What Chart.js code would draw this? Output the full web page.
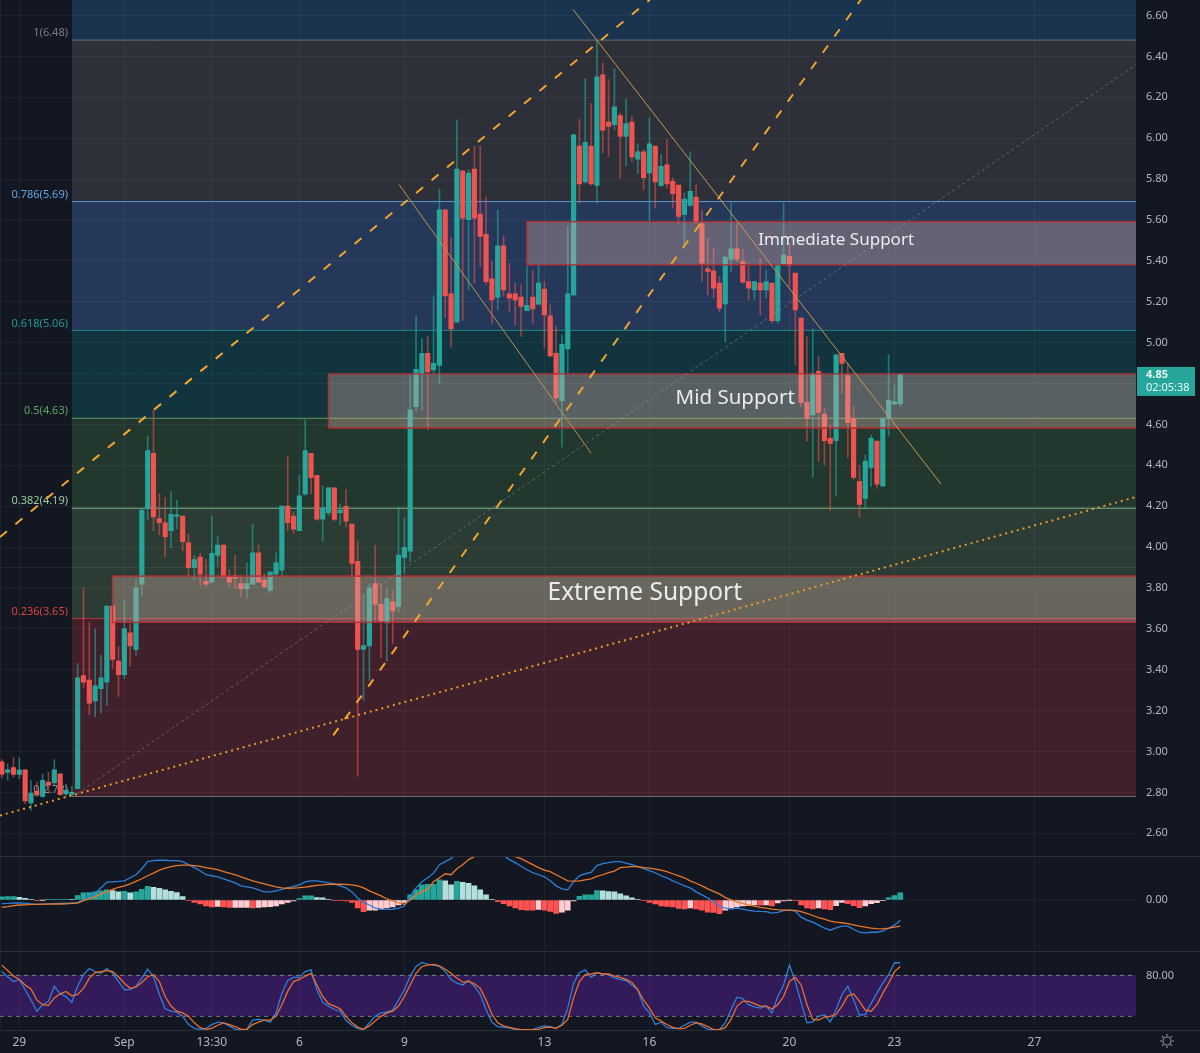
<!DOCTYPE html>
<html>
<head>
<meta charset="utf-8">
<title>Fib chart</title>
<script src="https://cdn.jsdelivr.net/npm/chart.js@4/dist/chart.umd.min.js"></script>
<style>
  html, body { margin: 0; padding: 0; background: #131722; }
  body { width: 1200px; height: 1053px; position: relative; overflow: hidden; }
  canvas { position: absolute; left: 0; }
  /* each canvas is 17px taller than its pane on the sides where the layout keeps a margin */
  #mainChart { top: -17px; }
  #macdChart { top: 840px; }
  #stochChart { top: 935px; }
  .paneLine { position: absolute; left: 0; width: 1200px; height: 1px; background: #2a2e39; }
</style>
</head>
<body>
<canvas id="mainChart" width="1200" height="890"></canvas>
<canvas id="macdChart" width="1200" height="128"></canvas>
<canvas id="stochChart" width="1200" height="118"></canvas>
<div class="paneLine" style="top:856px"></div>
<div class="paneLine" style="top:951px"></div>
<div class="paneLine" style="top:1030px"></div>
<script>
// 4h candles, one entry per bar
const opens = [
  2.949,2.898,2.921,2.888,2.911,2.748,2.806,2.78,2.85,2.846,
  2.891,2.793,2.79,2.818,3.371,3.35,3.247,3.308,3.339,3.711,
  3.442,3.376,3.58,3.50,3.819,4.189,4.459,4.139,4.119,4.08,
  4.15,4.152,4.021,3.899,3.951,3.832,3.828,3.959,4.01,3.854,
  3.861,3.822,3.797,3.819,3.972,3.838,3.789,3.868,3.887,4.2,
  4.152,4.08,4.259,4.459,4.351,4.137,4.168,4.29,4.168,4.199,
  4.112,3.93,3.499,3.517,3.822,3.72,3.629,3.732,3.708,3.949,
  3.98,4.687,4.847,4.948,4.867,4.889,5.65,5.239,5.10,5.841,
  5.601,5.849,5.629,5.53,5.312,5.221,5.474,5.239,5.239,5.223,
  5.157,5.223,5.188,5.262,5.131,4.948,4.716,4.969,5.234,5.962,
  5.786,5.962,5.769,6.31,6.079,6.066,6.111,6.009,6.079,5.898,
  5.933,5.83,5.962,5.768,5.87,5.789,5.771,5.626,5.671,5.712,
  5.582,5.361,5.351,5.291,5.19,5.408,5.459,5.397,5.299,5.258,
  5.291,5.258,5.291,5.108,5.386,5.422,5.34,5.12,4.708,4.646,
  4.86,4.65,4.532,4.52,4.948,4.839,4.63,4.32,4.238,4.388,
  4.519,4.299,4.63,4.70,4.70
];
const highs = [
  2.96,2.94,2.97,2.97,2.911,2.859,2.85,2.89,2.9,2.96,
  2.891,2.84,2.83,3.43,3.802,3.631,3.60,3.471,3.711,3.711,
  3.512,3.74,3.626,3.838,4.181,4.543,4.671,4.262,4.243,4.271,
  4.23,4.152,4.063,3.96,3.969,3.94,4.152,4.054,4.01,3.89,
  3.96,3.855,3.923,4.112,4.01,3.87,3.879,3.972,4.2,4.445,
  4.173,4.352,4.622,4.459,4.351,4.3,4.29,4.29,4.21,4.282,
  4.112,4.029,3.765,3.822,4.01,3.822,3.797,3.789,4.197,4.14,
  4.842,5.131,5.022,5.03,5.229,5.751,5.65,5.511,6.09,5.841,
  5.846,5.96,5.96,5.712,5.397,5.65,5.523,5.389,5.29,5.283,
  5.373,5.351,5.381,5.299,5.185,5.079,5.038,5.568,6.02,6.091,
  6.29,6.169,6.479,6.368,6.287,6.339,6.123,6.192,6.104,5.973,
  5.944,6.099,5.962,5.92,5.993,5.805,5.771,5.732,5.933,5.773,
  5.65,5.511,5.462,5.324,5.42,5.683,5.585,5.455,5.389,5.299,
  5.413,5.356,5.291,5.381,5.683,5.487,5.34,5.12,5.03,5.066,
  4.932,4.679,4.597,4.94,4.948,4.899,4.69,4.401,4.45,4.548,
  4.519,4.63,4.94,4.793,4.847
];
const lows = [
  2.87,2.86,2.875,2.867,2.745,2.712,2.78,2.775,2.795,2.83,
  2.785,2.78,2.78,2.818,3.313,3.179,3.169,3.188,3.226,3.406,
  3.27,3.357,3.417,3.471,3.757,4.135,4.08,4.059,3.952,3.997,
  4.09,3.982,3.858,3.838,3.809,3.81,3.825,3.907,3.85,3.809,
  3.797,3.757,3.753,3.819,3.828,3.80,3.78,3.863,3.854,4.08,
  4.067,4.08,4.254,4.259,4.13,4.029,4.155,4.125,4.108,4.10,
  3.858,2.88,3.25,3.348,3.634,3.459,3.443,3.528,3.683,3.871,
  3.93,4.663,4.671,4.573,4.85,4.798,5.124,4.978,5.10,5.108,
  5.258,5.291,5.373,5.283,5.095,5.16,5.226,5.152,5.087,5.03,
  5.157,5.095,5.185,4.973,4.93,4.703,4.488,4.85,5.23,5.683,
  5.78,5.77,5.683,5.928,5.911,6.042,5.805,5.866,5.887,5.826,
  5.748,5.598,5.658,5.765,5.756,5.658,5.585,5.479,5.665,5.585,
  5.30,5.234,5.217,5.152,5.005,5.348,5.397,5.29,5.209,5.209,
  5.136,5.217,5.095,5.095,5.38,5.275,4.891,4.687,4.52,4.341,
  4.418,4.401,4.178,4.25,4.752,4.439,4.33,4.148,4.189,4.295,
  4.287,4.295,4.543,4.695,4.687
];
const closes = [
  2.888,2.911,2.888,2.911,2.758,2.797,2.787,2.859,2.836,2.911,
  2.789,2.81,2.80,3.36,3.339,3.237,3.321,3.36,3.711,3.45,
  3.376,3.60,3.517,3.80,4.181,4.472,4.148,4.119,4.05,4.16,
  4.155,4.027,3.899,3.939,3.868,3.819,3.969,4.01,3.854,3.828,
  3.848,3.797,3.822,3.972,3.828,3.806,3.879,3.923,4.2,4.119,
  4.088,4.251,4.472,4.339,4.137,4.192,4.29,4.135,4.181,4.127,
  3.92,3.50,3.518,3.80,3.72,3.639,3.748,3.688,3.961,3.998,
  4.671,4.87,4.948,4.857,4.899,5.65,5.229,5.067,5.849,5.609,
  5.83,5.609,5.52,5.298,5.209,5.474,5.258,5.218,5.209,5.177,
  5.182,5.165,5.291,5.136,4.935,4.728,4.992,5.239,6.017,5.777,
  5.98,5.777,6.30,6.039,6.058,6.153,6.009,6.071,5.908,5.933,
  5.807,5.972,5.786,5.862,5.777,5.729,5.618,5.702,5.74,5.588,
  5.389,5.348,5.267,5.169,5.418,5.459,5.408,5.296,5.267,5.299,
  5.258,5.299,5.107,5.381,5.43,5.378,5.16,4.708,4.63,4.847,
  4.659,4.52,4.507,4.94,4.899,4.609,4.341,4.209,4.421,4.532,
  4.308,4.63,4.718,4.71,4.847
];

// MACD pane
const macdHist = [
  .015,.017,.017,.013,.008,.003,-.002,-.001,.002,.003,.003,.003,.002,
  .022,.035,.037,.04,.045,.05,.047,.04,.043,.035,.04,.053,.068,.063,.058,.05,.043,.037,.017,
  -.002,-.012,-.02,-.03,-.035,-.032,-.035,-.037,-.037,-.037,-.037,-.04,-.037,-.035,-.033,-.03,-.02,-.012,-.005,
  .007,.02,.02,.012,.01,.003,
  -.002,-.004,-.005,-.012,-.04,-.058,-.05,-.05,-.045,-.04,-.035,-.025,-.012,
  .025,.05,.075,.078,.078,.1,.095,.075,.092,.088,.083,.07,.05,.025,.002,
  -.008,-.018,-.03,-.04,-.048,-.05,-.051,-.047,-.05,-.057,-.067,-.06,-.05,-.005,
  .018,.025,.026,.047,.045,.042,.04,.03,.02,.01,.003,
  -.002,-.012,-.02,-.03,-.032,-.035,-.042,-.045,-.04,-.045,-.05,-.06,-.062,-.068,-.05,-.04,-.035,-.03,-.028,-.025,-.026,-.025,-.03,-.015,-.005,-.001,-.002,
  -.025,-.04,-.045,-.04,-.045,-.048,-.028,-.012,-.018,-.028,-.038,-.03,-.018,-.014,-.003,
  .012,.022,.035
];
const macdLine = [
  -.018,-.017,-.015,-.014,-.016,-.02,-.022,-.021,-.019,-.018,-.017,-.016,-.015,
  -.012,0,.02,.035,.06,.088,.09,.092,.095,.11,.125,.155,.19,.195,.197,.197,.195,.195,.19,
  .175,.16,.145,.125,.12,.115,.105,.095,.085,.07,.065,.06,.05,.04,.04,.045,.052,.06,.067,
  .075,.09,.095,.095,.09,.085,
  .08,.07,.06,.04,.01,-.012,-.025,-.04,-.045,-.047,-.047,-.04,-.03,
  .02,.06,.09,.11,.133,.175,.19,.205,.235,.26,.28,.28,.28,.275,.262,
  .25,.22,.2,.185,.167,.15,.135,.125,.115,.095,.07,.055,.05,.09,
  .12,.13,.137,.17,.18,.185,.19,.19,.183,.175,.165,
  .155,.145,.135,.12,.11,.095,.083,.07,.06,.04,.025,.01,-.01,-.03,-.04,-.045,-.04,-.045,-.052,-.055,-.057,-.058,-.065,-.062,-.053,-.05,-.055,
  -.085,-.1,-.11,-.125,-.14,-.15,-.138,-.13,-.13,-.145,-.16,-.163,-.16,-.16,-.155,
  -.14,-.125,-.1
];
const macdSignal = [
  -.037,-.033,-.028,-.025,-.024,-.022,-.022,-.021,-.021,-.02,-.02,-.019,-.017,
  -.016,-.003,.005,.015,.03,.04,.052,.063,.07,.08,.092,.105,.12,.133,.148,.158,.165,.17,.173,
  .173,.17,.167,.16,.155,.15,.14,.133,.125,.115,.105,.095,.087,.08,.072,.065,.06,.058,.059,
  .061,.064,.068,.072,.075,.077,
  .078,.078,.077,.075,.07,.06,.045,.033,.02,.005,-.005,-.015,-.022,
  0,.025,.04,.055,.09,.11,.13,.125,.155,.175,.2,.215,.235,.25,.26,
  .255,.245,.23,.215,.205,.19,.175,.16,.148,.14,.125,.11,.095,.093,
  .095,.1,.105,.117,.125,.135,.143,.16,.163,.165,.165,
  .16,.158,.153,.148,.14,.13,.12,.11,.095,.083,.07,.055,.043,.03,.012,0,-.01,-.017,-.025,-.03,-.037,-.04,-.045,-.048,-.05,-.05,-.052,
  -.058,-.067,-.077,-.087,-.095,-.105,-.11,-.113,-.117,-.123,-.13,-.135,-.14,-.142,-.143,
  -.14,-.135,-.13
];

// Stochastic pane
const stochK = [
  85.5,78,71,74,59,44,27.5,37,42,64,53,49,40.5,64,81,90,85.5,83,90,83,
  71,59,59,64,76,89,78,52,31,27.5,26,20,8,2.5,1,2,8,11.5,10.5,6,
  1,.5,1,14.5,15.5,14.5,11.5,25,54,72.5,77,77,85.5,88,59,40.5,35,30,27.5,14,
  7,2,.5,10.5,20,25,26.5,29,44,59,79,93,99,96.5,95,93,85.5,74,68.5,66,
  72.5,64,52,30,11.5,5,4,3,.5,.5,.5,.5,4,6,5,2.5,8,32,68.5,84,
  88,77,84,82,81,76,74,72.5,66,59,35,25,8,11.5,3.4,2.4,2,7,11.5,11.5,
  6,1,.5,.5,10.5,30,48,46,37,34,32,35,25,49,66,95,71,40,10.5,12,
  20,22,11.5,30,52,64,44,22,23,39,54,68.5,81,98.5,98.5
];
const stochD = [
  95,87,79,74,66,60,44,37,36,47,53,56.5,50,52,61,76,84,85.5,87,85.5,
  78,68.5,61,63,69.5,78,81,71,49,35,27.5,25,20,10.5,3.4,1,2.4,7,10.5,8,
  5,1,1,8,11.5,14.5,14.5,20,37,56.5,71,74,79,83,66,49,38.6,35,31,20,
  10.5,4.3,1,6,13,20,25,27.5,35,49,66,83,93,95,96,94,89,83,76,70,
  71,67.6,61,44,23,10.5,6,4,2,.5,.5,.5,1,3.4,4.3,2.4,7,15.5,47,71,
  81,82,84,82,82,79,77,74,69.5,59,44,32,18,13,8,4,2,2.4,7,10.5,
  9,5,.5,.5,3.4,15.5,35,42,42,38.6,35,35,31,37,49,71,77,66,37,15.5,
  14.5,19,20,23,35,50,53,42,29,27.5,37,54,68.5,85.5,93
];
const stochBand = [20, 80];

// x axis, tick position is the bar number
const tickBars = [3, 21, 36, 51, 69, 93, 111, 135, 153, 177];
const tickLabels = ["29", "Sep", "13:30", "6", "9", "13", "16", "20", "23", "27"];
const barMin = -0.31, barMax = 194.4;

// fib levels, top to bottom
const fibRatios = ["1", "0.786", "0.618", "0.5", "0.382", "0.236", "0"];
const fibPrices = [6.48, 5.69, 5.06, 4.63, 4.19, 3.65, 2.78];
const fibLineColors = ["#6a6d78", "#5b9bd5", "#1d8a80", "#5d9e63", "#7fb78a", "#b8353a", "#7c6a78"];
const fibTextColors = ["#787b86", "#64a5e0", "#1f9d8b", "#5aa563", "#9ccb9f", "#d6453f", "#8a8d96"];
const fibBandColors = ["#2e3039", "#26385a", "#12343e", "#22372e", "#2a3c34", "#40202a"];
const fibStartBar = 12;
const fibTopColor = "#1a344f";

// support boxes: name, first bar, top and bottom price
const boxNames = ["Immediate Support", "Mid Support", "Extreme Support"];
const boxStart = [90, 56, 19];
const boxTop = [5.591, 4.847, 3.858];
const boxBottom = [5.381, 4.583, 3.632];
const boxTextBar = [143, 125.7, 110.2];
const boxTextPrice = [5.503, 4.729, 3.775];
const boxTextSize = [17, 20.5, 24.5];

// drawn trend lines
const channelUpper = [{ x: -0.31, y: 4.049 }, { x: 111.1, y: 6.678 }];
const channelLower = [{ x: 56.8, y: 3.079 }, { x: 147.25, y: 6.678 }];
const channelMiddle = [{ x: 13, y: 2.795 }, { x: 194.4, y: 6.36 }];
const dottedTrend = [{ x: -0.31, y: 2.687 }, { x: 194.4, y: 4.245 }];
const fallingOne = [{ x: 68.1, y: 5.773 }, { x: 101, y: 4.46 }];
const fallingTwo = [{ x: 97.9, y: 6.63 }, { x: 161, y: 4.308 }];

const bars = opens.map((_, i) => i);
const TEAL = "#26a69a", RED = "#ef5350";
const GRID = "rgba(255,255,255,0.045)";
const AXIS_TEXT = "#b2b5be";
const FONT = "'Noto Sans', sans-serif";

Chart.defaults.font.family = FONT;
Chart.defaults.animation = false;
Chart.defaults.responsive = false;
Chart.defaults.devicePixelRatio = 1;

function line(data, color, width, dash, order) {
  return {
    type: "line", data, borderColor: color, borderWidth: width, borderDash: dash || [],
    pointRadius: 0, fill: false, order, tension: 0
  };
}

function band(top, bottom, start, color, lineColor, order) {
  return {
    type: "line",
    data: [{ x: start, y: top }, { x: barMax, y: top }],
    borderColor: lineColor || "transparent",
    borderWidth: lineColor ? 1 : 0,
    backgroundColor: color,
    fill: { target: { value: bottom } },
    pointRadius: 0,
    order
  };
}

function xAxis(showLabels) {
  return {
    type: "linear", min: barMin, max: barMax, offset: false,
    afterBuildTicks: s => { s.ticks = tickBars.map(v => ({ value: v })); },
    afterFit: s => { s.height = showLabels ? 23 : 0; },
    grid: { color: GRID, drawTicks: false, offset: false, z: 1 },
    border: { display: false },
    ticks: {
      display: showLabels, autoSkip: false, maxRotation: 0, color: AXIS_TEXT, padding: 5,
      font: { size: 12 },
      callback: v => tickLabels[tickBars.indexOf(v)]
    }
  };
}

function yAxis(min, max, extra) {
  return Object.assign({
    type: "linear", position: "right", min, max,
    afterFit: s => { s.width = 64; },
    grid: { color: GRID, drawTicks: false, z: 1 },
    border: { display: true, color: "#2a2e39" }
  }, extra);
}

const baseOptions = {
  layout: { padding: 0, autoPadding: false },
  plugins: { legend: { display: false }, tooltip: { enabled: false } },
  events: []
};

// fib labels sit under the candles, the rest goes on top
const mainText = {
  id: "mainText",
  beforeDatasetsDraw(chart) {
    const { ctx, scales } = chart;
    ctx.save();
    ctx.font = "11px " + FONT;
    ctx.textAlign = "right";
    ctx.textBaseline = "middle";
    fibRatios.forEach((r, i) => {
      ctx.fillStyle = fibTextColors[i];
      ctx.fillText(`${r}(${fibPrices[i].toFixed(2)})`, 68, scales.y.getPixelForValue(fibPrices[i]) - 7);
    });
    ctx.restore();
  },
  afterDatasetsDraw(chart) {
    const { ctx, scales } = chart;
    ctx.save();
    ctx.textAlign = "center";
    ctx.textBaseline = "middle";
    boxNames.forEach((name, i) => {
      ctx.font = boxTextSize[i] + "px " + FONT;
      ctx.fillStyle = "#e9ecef";
      ctx.fillText(name, scales.x.getPixelForValue(boxTextBar[i]), scales.y.getPixelForValue(boxTextPrice[i]));
    });
    // last price tag
    const last = closes[closes.length - 1];
    const py = scales.y.getPixelForValue(last);
    ctx.fillStyle = TEAL;
    ctx.fillRect(1137, py - 7, 58, 29);
    ctx.fillStyle = "#e8f7f5";
    ctx.textAlign = "left";
    ctx.font = "bold 11px " + FONT;
    ctx.fillText(last.toFixed(2), 1146, py + 0.5);
    ctx.font = "11px " + FONT;
    ctx.fillText("02:05:38", 1146, py + 14);
    ctx.restore();
  }
};

const gearIcon = {
  id: "gearIcon",
  afterDraw(chart) {
    const { ctx } = chart;
    ctx.save();
    ctx.strokeStyle = "#8a8d96";
    ctx.lineWidth = 1.2;
    ctx.beginPath();
    ctx.arc(1167, 106, 4, 0, Math.PI * 2);
    ctx.stroke();
    for (let a = 0; a < 8; a++) {
      const t = a * Math.PI / 4;
      ctx.beginPath();
      ctx.moveTo(1167 + Math.cos(t) * 5, 106 + Math.sin(t) * 5);
      ctx.lineTo(1167 + Math.cos(t) * 7, 106 + Math.sin(t) * 7);
      ctx.stroke();
    }
    ctx.restore();
  }
};

const mainSets = [];
mainSets.push(band(6.678, fibPrices[0], fibStartBar, fibTopColor, null, 60));
fibPrices.forEach((p, i) => {
  if (i < fibBandColors.length) {
    mainSets.push(band(p, fibPrices[i + 1], fibStartBar, fibBandColors[i], fibLineColors[i], 59 - i));
  } else {
    mainSets.push(line([{ x: fibStartBar, y: p }, { x: barMax, y: p }], fibLineColors[i], 1, [], 50));
  }
});
mainSets.push(line([{ x: barMin, y: 3.9 }, { x: barMax, y: 3.9 }], "rgba(255,255,255,0.07)", 1, [], 45));
mainSets.push(line([{ x: barMin, y: 4.85 }, { x: barMax, y: 4.85 }], "rgba(38,166,154,0.35)", 1, [1, 2], 45));

mainSets.push({
  type: "bar", grouped: false, order: 30, barThickness: 1,
  data: bars.map(i => ({ x: i, y: [lows[i], highs[i]] })),
  backgroundColor: bars.map(i => closes[i] >= opens[i] ? "rgba(38,166,154,0.6)" : "rgba(239,83,80,0.55)")
});
mainSets.push({
  type: "bar", grouped: false, order: 29, barThickness: 4.5, minBarLength: 1.5,
  data: bars.map(i => ({ x: i, y: [opens[i], closes[i]] })),
  backgroundColor: bars.map(i => closes[i] >= opens[i] ? TEAL : RED)
});

boxNames.forEach((_, i) => {
  mainSets.push(band(boxTop[i], boxBottom[i], boxStart[i], "rgba(215,175,165,0.36)", null, 12));
  mainSets.push(line([
    { x: barMax, y: boxTop[i] }, { x: boxStart[i], y: boxTop[i] },
    { x: boxStart[i], y: boxBottom[i] }, { x: barMax, y: boxBottom[i] }
  ], "rgba(178,50,52,0.9)", 1.6, [3000, 1], 11));
});

mainSets.push(line(channelMiddle, "rgba(160,165,175,0.45)", 1, [3, 3], 6));
mainSets.push(line(channelUpper, "#f0a52f", 2, [9, 11], 5));
mainSets.push(line(channelLower, "#f0a52f", 2, [9, 11], 5));
mainSets.push(line(dottedTrend, "#e79b2f", 2, [2, 4], 5));
mainSets.push(line(fallingOne, "#b99350", 1, [], 4));
mainSets.push(line(fallingTwo, "#c39a50", 1, [], 4));

new Chart(document.getElementById("mainChart"), {
  data: { datasets: mainSets },
  options: Object.assign({}, baseOptions, {
    scales: {
      x: xAxis(false),
      y: yAxis(2.487, 6.678, {
        ticks: {
          stepSize: 0.2, includeBounds: false, color: AXIS_TEXT, padding: 10,
          font: { size: 11 },
          callback: v => v.toFixed(2)
        }
      })
    }
  }),
  plugins: [mainText]
});

new Chart(document.getElementById("macdChart"), {
  data: {
    datasets: [
      {
        type: "bar", order: 3, barThickness: 5,
        data: bars.map(i => ({ x: i, y: macdHist[i] })),
        backgroundColor: bars.map(i => {
          const v = macdHist[i], prev = i ? macdHist[i - 1] : v;
          if (v >= 0) return v >= prev ? "#26a69a" : "#b2dfdb";
          return v < prev ? "#ff5252" : "#ffcdd2";
        })
      },
      line(bars.map(i => ({ x: i, y: macdLine[i] })), "#2f7fd8", 1.3, [], 2),
      line(bars.map(i => ({ x: i, y: macdSignal[i] })), "#e8782b", 1.3, [], 1)
    ]
  },
  options: Object.assign({}, baseOptions, {
    scales: {
      x: xAxis(false),
      y: yAxis(-0.255, 0.215, {
        afterBuildTicks: s => { s.ticks = [{ value: 0 }]; },
        ticks: { color: AXIS_TEXT, padding: 10, font: { size: 11 }, callback: v => v.toFixed(2) }
      })
    }
  })
});

new Chart(document.getElementById("stochChart"), {
  data: {
    datasets: [
      band(stochBand[1], stochBand[0], barMin, "#321b58", null, 5),
      line([{ x: barMin, y: stochBand[1] }, { x: barMax, y: stochBand[1] }], "#787b86", 1, [4, 4], 4),
      line([{ x: barMin, y: stochBand[0] }, { x: barMax, y: stochBand[0] }], "#787b86", 1, [4, 4], 4),
      line(bars.map(i => ({ x: i, y: stochK[i] })), "#2f7fd8", 1.3, [], 2),
      line(bars.map(i => ({ x: i, y: stochD[i] })), "#ec6f2c", 1.3, [], 1)
    ]
  },
  options: Object.assign({}, baseOptions, {
    scales: {
      x: xAxis(true),
      y: yAxis(0, 114.8, {
        afterBuildTicks: s => { s.ticks = [{ value: stochBand[1] }]; },
        ticks: { color: AXIS_TEXT, padding: 10, font: { size: 11 }, callback: v => v.toFixed(2) }
      })
    }
  }),
  plugins: [gearIcon]
});
</script>
</body>
</html>
